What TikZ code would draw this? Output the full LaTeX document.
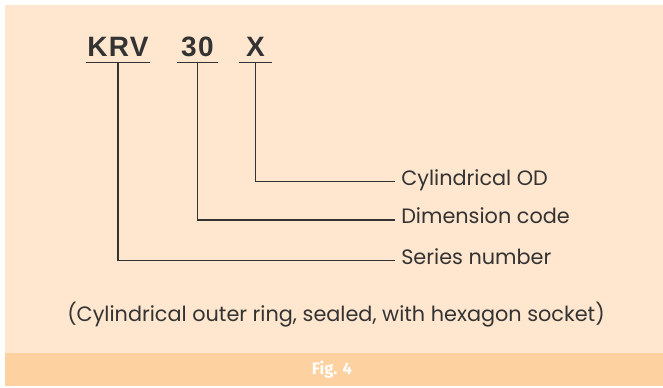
\documentclass[tikz,border=0pt]{standalone}
\usepackage{fontspec}
\setmainfont{Poppins}
\newfontfamily\codefont[LetterSpace=5]{Liberation Sans}
\newfontfamily\figfont{Fira Sans}
\usepackage{tikz}
\usetikzlibrary{positioning}
\definecolor{panelbg}{HTML}{FFE6CE}
\definecolor{bandbg}{HTML}{FDD1A0}
\definecolor{ink}{HTML}{333333}
\tikzset{
  code/.style={
    anchor=south,
    text=ink,
    inner xsep=0pt,
    inner ysep=4.5pt,
    font=\codefont\bfseries\fontsize{21}{24}\selectfont
  },
  desc/.style={
    anchor=mid west,
    text=ink,
    inner xsep=4.5pt,
    inner ysep=0pt,
    font=\fontsize{15.6}{18}\selectfont
  },
  caption/.style={
    text=ink,
    font=\fontsize{15.6}{18}\selectfont
  },
  figtitle/.style={
    text=white,
    font=\figfont\bfseries\fontsize{12.5}{14}\selectfont
  },
  lead/.style={
    draw=ink,
    line width=0.8pt
  }
}

\begin{document}
\begin{tikzpicture}[x=0.75pt, y=-0.75pt]
  \useasboundingbox (0,0) rectangle (663,388);

  % ------------------------------------------------------------------
  % background panel and title band
  % ------------------------------------------------------------------
  \fill[panelbg] (5,5) rectangle (663,386);
  \fill[bandbg] (5,352.7) rectangle (663,386);

  % ------------------------------------------------------------------
  % designation code
  % ------------------------------------------------------------------
  \node[code, minimum width=47.25pt] (krv) at (118,62.7) {KRV};
  \node[code, minimum width=30.75pt] (dim) at (197.5,62.7) {30};
  \node[code, minimum width=24.75pt] (od) at (255.5,62.7) {X};

  \foreach \c in {krv,dim,od}
    \draw[lead] (\c.south west) -- (\c.south east);

  % ------------------------------------------------------------------
  % meanings
  % ------------------------------------------------------------------
  \node[desc] (odlab) at (395,181.7) {Cylindrical OD};
  \node[desc] (dimlab) at (395,220) {Dimension code};
  \node[desc] (serlab) at (395,260.7) {Series number};

  \draw[lead] (od.south) |- (odlab.mid west);
  \draw[lead] (dim.south) |- (dimlab.mid west);
  \draw[lead] (krv.south) |- (serlab.mid west);

  \node[caption] (note) at (336,315)
    {(Cylindrical outer ring, sealed, with hexagon socket)};

  \node[figtitle] (fig) at (332,370) {Fig. 4};
\end{tikzpicture}
\end{document}
